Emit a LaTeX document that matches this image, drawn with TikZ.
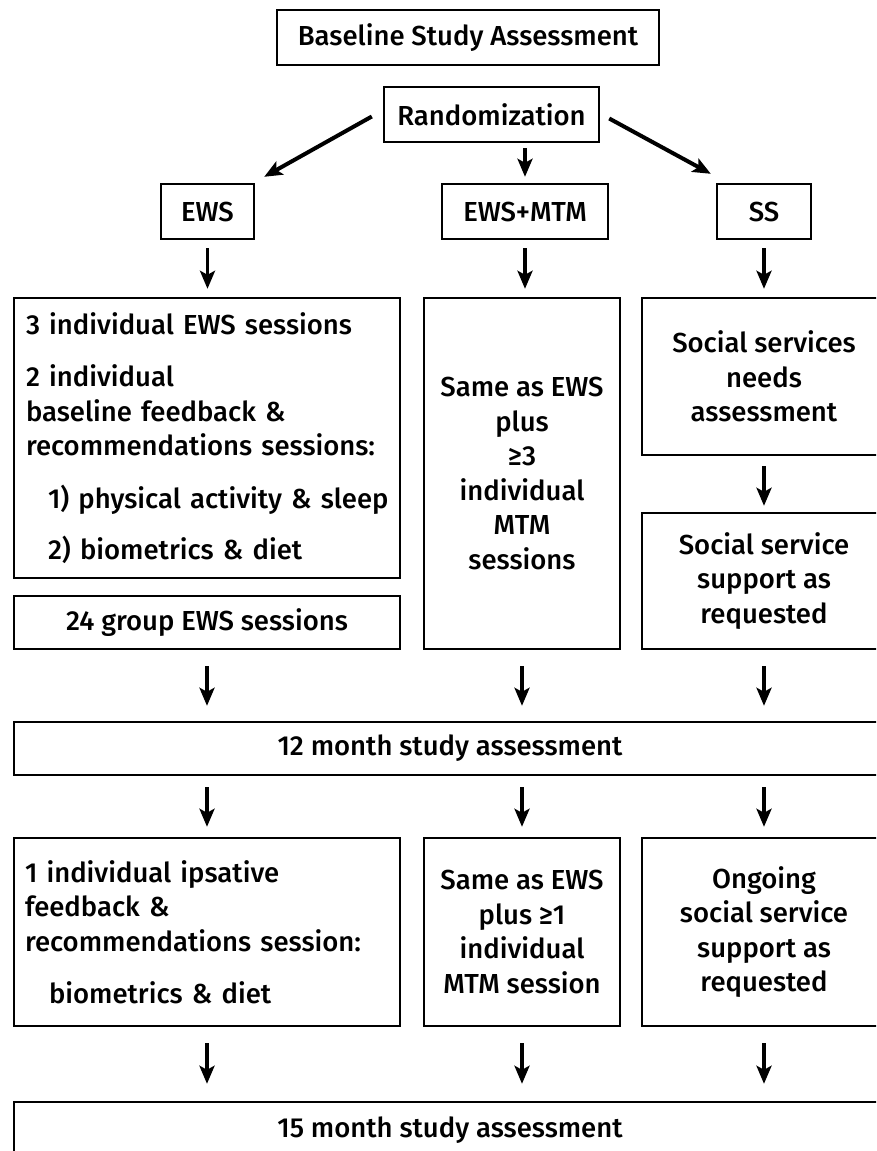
\documentclass[tikz,border=0pt]{standalone}
\usepackage{fontspec}
\setmainfont{Fira Sans Medium}
\usetikzlibrary{arrows.meta}
\begin{document}
\begin{tikzpicture}[x=1pt,y=-1pt,
  every node/.style={draw,line width=2.4pt,inner sep=0pt,font=\fontsize{27.5}{34.5}\selectfont},
  arr/.style={line width=3.4pt,shorten <=8pt,shorten >=8pt,-{Stealth[length=18pt,width=15pt,inset=4pt]}},
  diag/.style={arr,line width=4pt,shorten <=0pt,shorten >=0pt}]
\useasboundingbox (0,0) rectangle (876,1151);
\clip (0,0) rectangle (876,1151);
\node[minimum width=382pt,minimum height=55pt] (base) at (468,37.5) {Baseline Study Assessment};
\node[minimum width=215pt,minimum height=55pt] (rand) at (491.5,114.5) {Randomization};
\node[minimum width=93pt,minimum height=55pt] (ews) at (207.5,211.5) {EWS};
\node[minimum width=166pt,minimum height=55pt] (ewsmtm) at (525,211.5) {EWS+MTM};
\node[minimum width=94pt,minimum height=55pt] (ss) at (764,211.5) {SS};
\node[minimum width=386pt,minimum height=280pt,text width=362pt,align=left] (ewsa) at (207,438)
  {3 individual EWS sessions\\[18pt]
   2 individual\\ baseline feedback \&\\ \mbox{recommendations sessions:}\\[18pt]
   \hspace*{22pt}\mbox{1) physical activity \& sleep}\\[17pt]
   \hspace*{22pt}2) biometrics \& diet};
\node[minimum width=386pt,minimum height=53pt] (group) at (207,622.5) {24 group EWS sessions};
\node[minimum width=196pt,minimum height=351pt,align=center] (mtma) at (522,473.5)
  {Same as EWS\\ plus\\ ≥3\\ individual\\ MTM\\ sessions};
\node[minimum width=244pt,minimum height=157pt,align=center] (ssneed) at (764,376.5)
  {Social services\\ needs\\ assessment};
\node[minimum width=244pt,minimum height=136pt,align=center] (sssup) at (764,581)
  {Social service\\ support as\\ requested};
\node[minimum width=872pt,minimum height=53pt] (m12) at (450,748.5) {12 month study assessment};
\node[minimum width=386pt,minimum height=188pt,text width=364pt,align=left] (ewsb) at (207,932)
  {1 individual ipsative\\ feedback \&\\ \mbox{recommendations session:}\\[18pt]
   \hspace*{24pt}biometrics \& diet};
\node[minimum width=196pt,minimum height=188pt,align=center] (mtmb) at (522,932)
  {Same as EWS\\ plus ≥1\\ individual\\ MTM session};
\node[minimum width=244pt,minimum height=188pt,align=center] (ssb) at (764,932)
  {Ongoing\\ social service\\ support as\\ requested};
\node[minimum width=872pt,minimum height=56pt] (m15) at (450,1130) {15 month study assessment};
\draw[diag] ([shift={(-11,2)}]rand.west) -- ([shift={(9,-6)}]ews.north east);
\draw[diag] ([shift={(9,4)}]rand.east) -- ([shift={(-5,-9)}]ss.north west);
\draw[arr,shorten <=5pt,shorten >=6pt] (rand.south -| ewsmtm.north) -- (ewsmtm.north);
\draw[arr] (ews.south) -- (ews.south |- ewsa.north);
\draw[arr] (ewsmtm.south) -- (ewsmtm.south |- mtma.north);
\draw[arr] (ss.south) -- (ss.south |- ssneed.north);
\draw[arr,shorten <=10pt,shorten >=6pt] (ssneed.south) -- (sssup.north);
\draw[arr,shorten <=16pt,shorten >=15pt] (group.south) -- (group.south |- m12.north);
\draw[arr,shorten <=16pt,shorten >=15pt] (mtma.south) -- (mtma.south |- m12.north);
\draw[arr,shorten <=16pt,shorten >=15pt] (sssup.south) -- (sssup.south |- m12.north);
\draw[arr,shorten <=11pt,shorten >=10pt] (ewsb.north |- m12.south) -- (ewsb.north);
\draw[arr,shorten <=11pt,shorten >=10pt] (mtmb.north |- m12.south) -- (mtmb.north);
\draw[arr,shorten <=11pt,shorten >=10pt] (ssb.north |- m12.south) -- (ssb.north);
\draw[arr,shorten <=16pt,shorten >=17pt] (ewsb.south) -- (ewsb.south |- m15.north);
\draw[arr,shorten <=16pt,shorten >=17pt] (mtmb.south) -- (mtmb.south |- m15.north);
\draw[arr,shorten <=16pt,shorten >=17pt] (ssb.south) -- (ssb.south |- m15.north);
\end{tikzpicture}
\end{document}
